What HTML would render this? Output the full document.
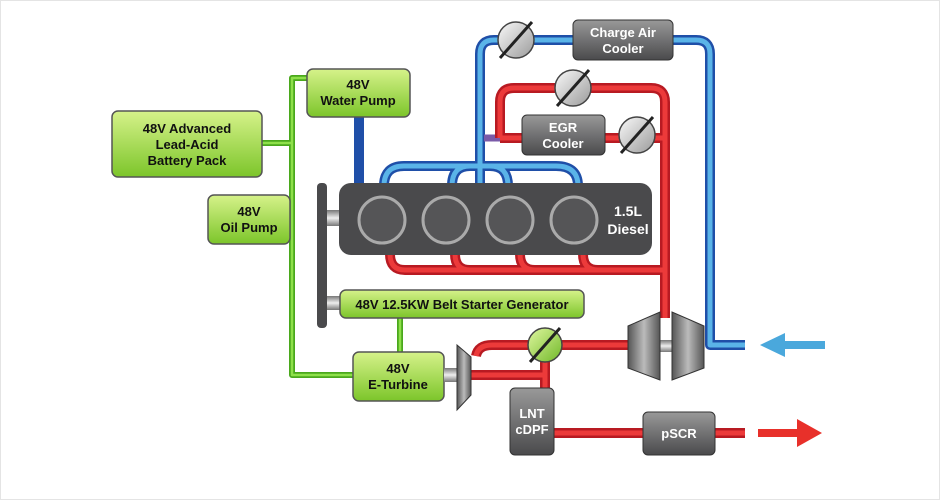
<!DOCTYPE html>
<html><head><meta charset="utf-8"><style>
body{margin:0;background:#fff}
svg{display:block}
text{font-family:"Liberation Sans",sans-serif;font-weight:bold;text-anchor:middle}
</style></head><body>
<svg width="940" height="500" viewBox="0 0 940 500" xmlns="http://www.w3.org/2000/svg">
<defs>
<linearGradient id="gr" x1="0" y1="0" x2="0" y2="1"><stop offset="0" stop-color="#d6f28a"/><stop offset="1" stop-color="#7cc52a"/></linearGradient>
<linearGradient id="gy" x1="0" y1="0" x2="0" y2="1"><stop offset="0" stop-color="#999"/><stop offset="1" stop-color="#4a4a4c"/></linearGradient>
<linearGradient id="vl" x1="0" y1="0" x2="1" y2="1"><stop offset="0" stop-color="#fafafa"/><stop offset="1" stop-color="#9a9a9a"/></linearGradient>
<linearGradient id="vg" x1="0" y1="0" x2="1" y2="1"><stop offset="0" stop-color="#e0f7a0"/><stop offset="1" stop-color="#70b828"/></linearGradient>
<linearGradient id="tb" x1="0" y1="0" x2="1" y2="0"><stop offset="0" stop-color="#555"/><stop offset=".5" stop-color="#bbb"/><stop offset="1" stop-color="#555"/></linearGradient>
<linearGradient id="sh" x1="0" y1="0" x2="0" y2="1"><stop offset="0" stop-color="#777"/><stop offset=".5" stop-color="#eee"/><stop offset="1" stop-color="#777"/></linearGradient>
</defs>
<rect x="0.5" y="0.5" width="939" height="499" fill="#fff" stroke="#e4e4e4"/>
<g fill="none" stroke-linejoin="round">
<g stroke="#4aa81c" stroke-width="6">
<path d="M262 143H292M307 78H292V375H353M290 220H292M400 318V352"/>
</g>
<g stroke="#8ee04a" stroke-width="2.5"><path d="M262 143H292M307 78H292V375H353M400 318V352"/></g>
<g stroke="#1f4fa8" stroke-width="10">
<path d="M359 117V185"/>
<path d="M480 185V54Q480 40 494 40H696Q710 40 710 54V345H745"/>
<path d="M384 186Q384 166 404 166H556Q578 166 578 186"/>
<path d="M452 186Q452 166 470 166H490Q508 166 508 186"/>
</g>
<g stroke="#5ab4e8" stroke-width="5">
<path d="M480 185V54Q480 40 494 40H696Q710 40 710 54V345H745"/>
<path d="M384 186Q384 166 404 166H556Q578 166 578 186"/>
<path d="M452 186Q452 166 470 166H490Q508 166 508 186"/>
</g>
<path d="M484 138H500" stroke="#7a5aa8" stroke-width="7"/>
<g stroke="#b81a22" stroke-width="10">
<path d="M500 138V102Q500 88 514 88H651Q665 88 665 102V318"/>
<path d="M500 138H665"/>
<path d="M390 254Q390 270 405 270H665M455 254Q455 270 470 270M520 254Q520 270 535 270M583 254Q583 270 598 270"/>
<path d="M630 345H492Q478 345 476 356"/>
<path d="M471 375H545V390M545 345V375"/>
<path d="M554 433H645M715 433H745"/>
</g>
<g stroke="#ec3a3a" stroke-width="5">
<path d="M500 138V102Q500 88 514 88H651Q665 88 665 102V318"/>
<path d="M500 138H665"/>
<path d="M390 254Q390 270 405 270H665M455 254Q455 270 470 270M520 254Q520 270 535 270M583 254Q583 270 598 270"/>
<path d="M630 345H492Q478 345 476 356"/>
<path d="M471 375H545V390M545 345V375"/>
<path d="M554 433H645M715 433H745"/>
</g>
</g>
<path d="M760 345L785 333V341H825V349H785V357Z" fill="#4aa8dc"/>
<path d="M758 429H797V419L822 433L797 447V437H758Z" fill="#e8302a"/>
<rect x="317" y="183" width="10" height="145" rx="4" fill="#4a4a4c"/>
<rect x="327" y="210" width="13" height="16" fill="url(#sh)"/>
<rect x="327" y="296" width="14" height="14" fill="url(#sh)"/>
<rect x="339" y="183" width="313" height="72" rx="12" fill="#4a4a4c"/>
<g fill="#555557" stroke="#aaa" stroke-width="3">
<circle cx="382" cy="220" r="23"/><circle cx="446" cy="220" r="23"/><circle cx="510" cy="220" r="23"/><circle cx="574" cy="220" r="23"/>
</g>
<text x="628" y="216" fill="#fff" font-size="14" font-weight="normal">1.5L</text>
<text x="628" y="234" fill="#fff" font-size="14" font-weight="normal">Diesel</text>
<g stroke="#555" stroke-width="1.5" fill="url(#gr)">
<rect x="112" y="111" width="150" height="66" rx="6"/>
<rect x="307" y="69" width="103" height="48" rx="6"/>
<rect x="208" y="195" width="82" height="49" rx="6"/>
<rect x="340" y="290" width="244" height="28" rx="6"/>
<rect x="353" y="352" width="91" height="49" rx="6"/>
</g>
<g fill="#111" font-size="13">
<text x="187" y="133">48V Advanced</text><text x="187" y="149">Lead-Acid</text><text x="187" y="165">Battery Pack</text>
<text x="358" y="89">48V</text><text x="358" y="105">Water Pump</text>
<text x="249" y="216">48V</text><text x="249" y="232">Oil Pump</text>
<text x="462" y="309">48V 12.5KW Belt Starter Generator</text>
<text x="398" y="373">48V</text><text x="398" y="389">E-Turbine</text>
</g>
<g stroke="#333" stroke-width="1" fill="url(#gy)">
<rect x="573" y="20" width="100" height="40" rx="5"/>
<rect x="522" y="115" width="83" height="40" rx="5"/>
<rect x="510" y="388" width="44" height="67" rx="5"/>
<rect x="643" y="412" width="72" height="43" rx="5"/>
</g>
<g fill="#fff" font-size="13" font-weight="normal">
<text x="623" y="37">Charge Air</text><text x="623" y="53">Cooler</text>
<text x="563" y="132">EGR</text><text x="563" y="148">Cooler</text>
<text x="532" y="418">LNT</text><text x="532" y="434">cDPF</text>
<text x="679" y="438">pSCR</text>
</g>
<g stroke="#444" stroke-width="1.5">
<circle cx="516" cy="40" r="18" fill="url(#vl)"/>
<circle cx="573" cy="88" r="18" fill="url(#vl)"/>
<circle cx="637" cy="135" r="18" fill="url(#vl)"/>
<circle cx="545" cy="345" r="17" fill="url(#vg)"/>
</g>
<g stroke="#222" stroke-width="3">
<path d="M500 58L532 22M557 106L589 70M621 153L653 117M530 362L560 328"/>
</g>
<rect x="444" y="368" width="14" height="14" fill="url(#sh)"/>
<path d="M457 345L471 357V395L457 410Z" fill="url(#tb)" stroke="#333"/>
<rect x="655" y="340" width="24" height="12" fill="url(#sh)"/>
<path d="M660 312V380L628 368V326Z" fill="url(#tb)" stroke="#333"/>
<path d="M672 312V380L704 368V326Z" fill="url(#tb)" stroke="#333"/>
</svg>
</body></html>
